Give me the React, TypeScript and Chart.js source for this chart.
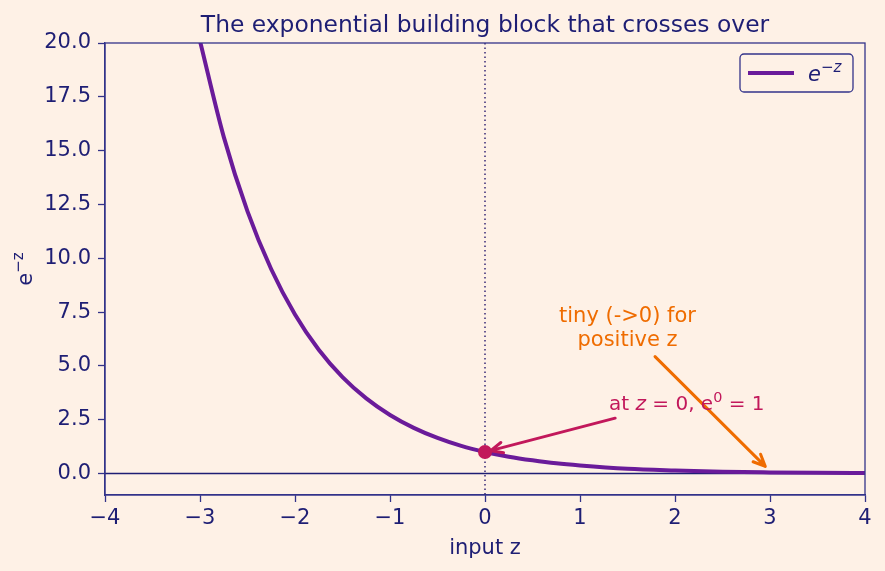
import React, { useEffect, useRef } from "react";
import { Chart, registerables } from "chart.js";

Chart.register(...registerables);

// ---- data ----
const zValues = [-3.0, -2.75, -2.5, -2.25, -2.0, -1.75, -1.5, -1.25, -1.0, -0.75, -0.5, -0.25, 0.0, 0.25, 0.5, 0.75, 1.0, 1.5, 2.0, 2.5, 3.0, 3.5, 4.0];
const expValues = [20.09, 15.64, 12.18, 9.49, 7.39, 5.75, 4.48, 3.49, 2.72, 2.12, 1.65, 1.28, 1.0, 0.78, 0.61, 0.47, 0.37, 0.22, 0.14, 0.08, 0.05, 0.03, 0.02];
const xTickValues = [-4, -3, -2, -1, 0, 1, 2, 3, 4];
const yTickValues = [0, 2.5, 5, 7.5, 10, 12.5, 15, 17.5, 20];
const markedPoint = { z: 0, v: 1 };
const titleText = "The exponential building block that crosses over";
const xAxisTitle = "input z";

// ---- styles ----
const BG = "#fef1e6";
const NAVY = "#1e1e74";
const SPINE = "#33338a";
const PURPLE = "#6a1b9a";
const CRIMSON = "#c2185b";
const ORANGE = "#ef6c00";
const FONT = "'DejaVu Sans', sans-serif";
const FS = 21;

type Part = { t: string; italic?: boolean; sup?: boolean };

function drawRich(ctx: CanvasRenderingContext2D, parts: Part[], x: number, y: number, size: number, color: string, align: "left" | "center" = "left") {
  const supSize = size * 0.72;
  const fontFor = (p: Part) => `${p.italic ? "italic " : ""}${p.sup ? supSize : size}px ${FONT}`;
  let total = 0;
  for (const p of parts) {
    ctx.font = fontFor(p);
    total += ctx.measureText(p.t).width;
  }
  let cx = align === "center" ? x - total / 2 : x;
  ctx.fillStyle = color;
  ctx.textBaseline = "alphabetic";
  ctx.textAlign = "left";
  for (const p of parts) {
    ctx.font = fontFor(p);
    ctx.fillText(p.t, cx, p.sup ? y - size * 0.42 : y);
    cx += ctx.measureText(p.t).width;
  }
}

function drawArrow(ctx: CanvasRenderingContext2D, x1: number, y1: number, x2: number, y2: number, color: string) {
  const ang = Math.atan2(y2 - y1, x2 - x1);
  ctx.save();
  ctx.strokeStyle = color;
  ctx.lineWidth = 3;
  ctx.lineCap = "round";
  ctx.lineJoin = "round";
  ctx.beginPath();
  ctx.moveTo(x1, y1);
  ctx.lineTo(x2, y2);
  const hl = 13;
  const hw = 0.42;
  ctx.moveTo(x2 - hl * Math.cos(ang - hw), y2 - hl * Math.sin(ang - hw));
  ctx.lineTo(x2, y2);
  ctx.lineTo(x2 - hl * Math.cos(ang + hw), y2 - hl * Math.sin(ang + hw));
  ctx.stroke();
  ctx.restore();
}

const decorPlugin = {
  id: "decor",
  beforeDraw(chart: any) {
    const ctx = chart.ctx;
    ctx.save();
    ctx.fillStyle = BG;
    ctx.fillRect(0, 0, chart.width, chart.height);
    ctx.restore();
  },
  beforeDatasetsDraw(chart: any) {
    const ctx = chart.ctx;
    const { left, right, top, bottom } = chart.chartArea;
    const xs = chart.scales.x;
    const ys = chart.scales.y;
    ctx.save();
    ctx.strokeStyle = NAVY;
    ctx.lineWidth = 1.6;
    const y0 = ys.getPixelForValue(0);
    ctx.beginPath();
    ctx.moveTo(left, y0);
    ctx.lineTo(right, y0);
    ctx.stroke();
    const x0 = xs.getPixelForValue(0);
    ctx.strokeStyle = "#2a1a6e";
    ctx.lineWidth = 1.4;
    ctx.setLineDash([1.5, 3]);
    ctx.beginPath();
    ctx.moveTo(x0, top);
    ctx.lineTo(x0, bottom);
    ctx.stroke();
    ctx.restore();
  },
  afterDatasetsDraw(chart: any) {
    const ctx = chart.ctx;
    const { left, right, top, bottom } = chart.chartArea;
    const xs = chart.scales.x;
    const ys = chart.scales.y;
    const px = (v: number) => xs.getPixelForValue(v);
    const py = (v: number) => ys.getPixelForValue(v);
    ctx.save();
    ctx.fillStyle = CRIMSON;
    ctx.beginPath();
    ctx.arc(px(markedPoint.z), py(markedPoint.v), 7, 0, Math.PI * 2);
    ctx.fill();

    drawArrow(ctx, px(1.37), py(2.57), px(0.06), py(1.06), CRIMSON);
    drawArrow(ctx, px(1.79), py(5.43), px(2.95), py(0.33), ORANGE);

    drawRich(ctx, [
      { t: "at " },
      { t: "z", italic: true },
      { t: " = 0, e" },
      { t: "0", sup: true },
      { t: " = 1" },
    ], px(1.305), py(2.93), 20, CRIMSON);
    drawRich(ctx, [{ t: "tiny (->0) for" }], px(1.5), py(7.05), FS, ORANGE, "center");
    drawRich(ctx, [{ t: "positive z" }], px(1.5), py(5.9), FS, ORANGE, "center");

    ctx.strokeStyle = SPINE;
    ctx.lineWidth = 1.3;
    ctx.strokeRect(left, top, right - left, bottom - top);

    drawRich(ctx, [{ t: titleText }], (left + right) / 2, 32, 23.4, NAVY, "center");
    drawRich(ctx, [{ t: xAxisTitle }], (left + right) / 2, 554, FS, NAVY, "center");
    ctx.save();
    ctx.translate(32, (top + bottom) / 2);
    ctx.rotate(-Math.PI / 2);
    drawRich(ctx, [{ t: "e" }, { t: "−z", sup: true }], 0, 0, FS, NAVY, "center");
    ctx.restore();

    const lx = 740, ly = 54, lw = 113, lh = 38;
    ctx.fillStyle = BG;
    ctx.strokeStyle = SPINE;
    ctx.lineWidth = 1.3;
    ctx.beginPath();
    (ctx as any).roundRect(lx, ly, lw, lh, 4);
    ctx.fill();
    ctx.stroke();
    ctx.strokeStyle = PURPLE;
    ctx.lineWidth = 4;
    ctx.beginPath();
    ctx.moveTo(748, 73);
    ctx.lineTo(794, 73);
    ctx.stroke();
    drawRich(ctx, [{ t: "e", italic: true }, { t: "−z", italic: true, sup: true }], 808, 81, FS, NAVY);
    ctx.restore();
  },
};

export default function App() {
  const ref = useRef<HTMLCanvasElement | null>(null);
  useEffect(() => {
    if (!ref.current) return;
    document.body.style.margin = "0";
    const chart = new Chart(ref.current, {
      type: "scatter",
      data: {
        datasets: [
          {
            label: "e^{-z}",
            data: zValues.map((z, i) => ({ x: z, y: expValues[i] })),
            showLine: true,
            borderColor: PURPLE,
            borderWidth: 4,
            pointRadius: 0,
            cubicInterpolationMode: "monotone",
            fill: false,
          } as any,
        ],
      },
      options: {
        animation: false,
        responsive: false,
        devicePixelRatio: 1,
        layout: { padding: { left: 0, right: 20, top: 43, bottom: 0 } },
        plugins: { legend: { display: false }, title: { display: false }, tooltip: { enabled: false } },
        scales: {
          x: {
            type: "linear",
            min: -4,
            max: 4,
            afterFit: (s: any) => { s.height = 76; },
            afterBuildTicks: (s: any) => { s.ticks = xTickValues.map((v) => ({ value: v })); },
            grid: { display: true, drawOnChartArea: false, drawTicks: true, tickLength: 7, tickColor: SPINE, tickWidth: 1.3 },
            border: { display: true, color: SPINE, width: 1.3 },
            ticks: {
              color: NAVY,
              font: { family: FONT, size: FS },
              padding: 4,
              maxRotation: 0,
              callback: (v: any) => String(v).replace("-", "\u2212"),
            },
          },
          y: {
            type: "linear",
            min: -1,
            max: 20,
            afterFit: (s: any) => { s.width = 105; },
            afterBuildTicks: (s: any) => { s.ticks = yTickValues.map((v) => ({ value: v })); },
            grid: { display: true, drawOnChartArea: false, drawTicks: true, tickLength: 7, tickColor: SPINE, tickWidth: 1.3 },
            border: { display: true, color: SPINE, width: 1.3 },
            ticks: {
              color: NAVY,
              font: { family: FONT, size: FS },
              padding: 7,
              callback: (v: any) => Number(v).toFixed(1).replace("-", "\u2212"),
            },
          },
        },
      },
      plugins: [decorPlugin],
    });
    return () => chart.destroy();
  }, []);
  return (
    <div style={{ position: "fixed", left: 0, top: 0, width: 885, height: 571, background: BG }}>
      <canvas ref={ref} width={885} height={571} style={{ width: 885, height: 571, display: "block" }} />
    </div>
  );
}
